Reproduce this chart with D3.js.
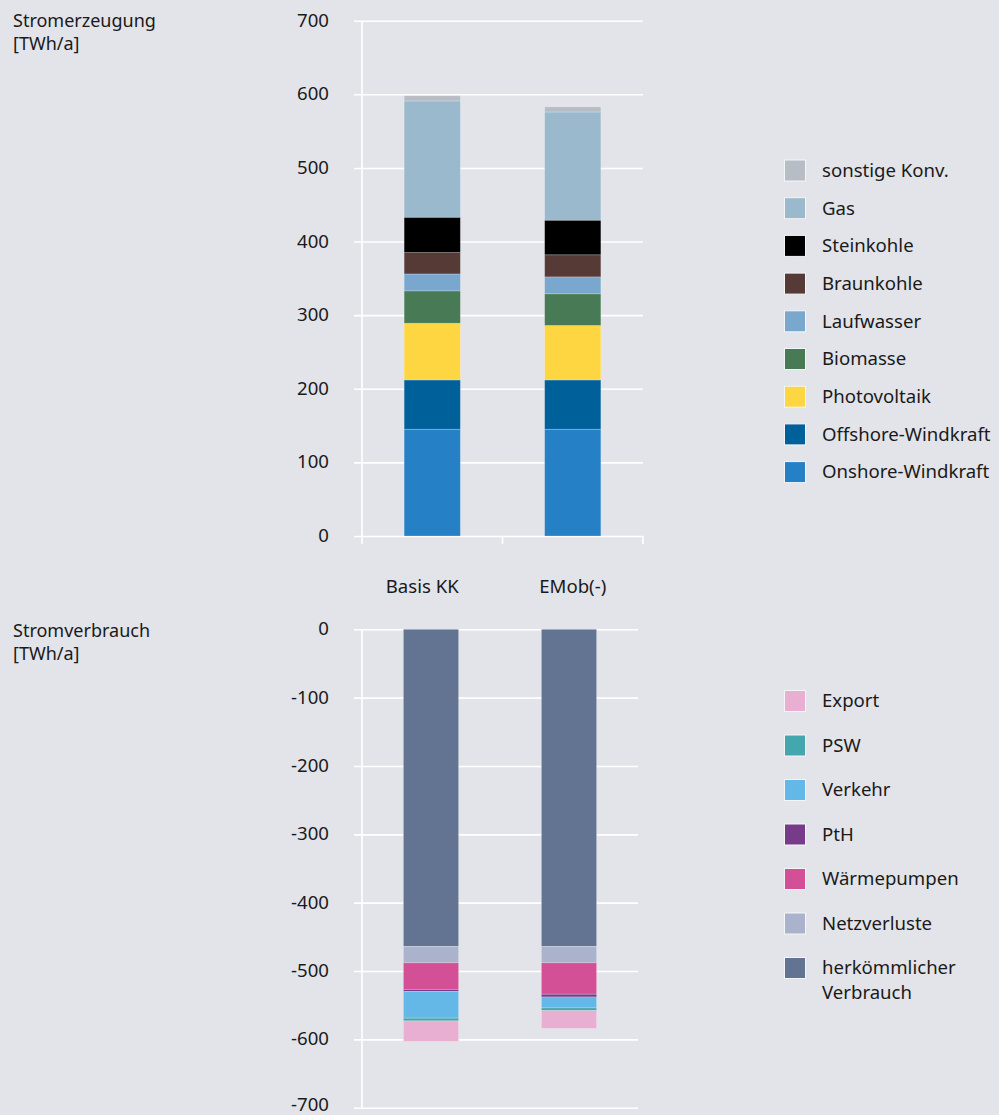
<!DOCTYPE html>
<html>
<head>
<meta charset="utf-8">
<script src="https://cdn.jsdelivr.net/npm/d3@7"></script>
<style>
  html, body { margin: 0; padding: 0; background: #e2e4e9; }
  svg { display: block; }
  text { font-family: "Noto Sans", sans-serif; font-size: 18.6px; fill: #1a1a1a; }
  text.title { font-size: 18px; }
</style>
</head>
<body>
<svg id="chart" width="999" height="1115"></svg>
<script>
// ---------- DATA ----------
const categories = ["Basis KK", "EMob(-)"];

const genSeries = ["Onshore-Windkraft", "Offshore-Windkraft", "Photovoltaik", "Biomasse",
                   "Laufwasser", "Braunkohle", "Steinkohle", "Gas", "sonstige Konv."];
const genBasisKK = [145, 67, 77, 44, 23, 29, 48, 158, 7];
const genEMob    = [145, 67, 74, 43, 23, 30, 47, 147, 7];
const genColors  = ["#2680c6", "#00609a", "#fed642", "#477a55",
                    "#79a7cd", "#553a36", "#000000", "#9ab9cc", "#b6bdc4"];
const genTicks   = [0, 100, 200, 300, 400, 500, 600, 700];

const conSeries = ["herkömmlicher Verbrauch", "Netzverluste", "Wärmepumpen", "PtH",
                   "Verkehr", "PSW", "Export"];
const conBasisKK = [-464, -24, -39, -3, -39, -4, -30];
const conEMob    = [-464, -24, -46, -4, -16, -4, -26];
const conColors  = ["#627492", "#aab3cb", "#d45096", "#763c8a",
                    "#63b8e8", "#44a6ae", "#e8afd3"];
const conTicks   = [0, -100, -200, -300, -400, -500, -600, -700];

// ---------- HELPERS ----------
const H = 1115;
const svg = d3.select("#chart");
const fmt = v => v < 0 ? "-" + Math.abs(v) : String(v);

function buildRows(series, valsA, valsB) {
  return categories.map((c, i) => {
    const row = { cat: c };
    const vals = i === 0 ? valsA : valsB;
    series.forEach((s, j) => row[s] = vals[j]);
    return row;
  });
}

function drawPanel(opts) {
  const { series, rows, colors, ticks, x0, x1, yTop, yBot, domain, xTicks } = opts;
  const g = svg.append("g");
  const x = d3.scaleBand().domain(categories).range([x0, x1]).paddingInner(0.6).paddingOuter(0.3);
  const y = d3.scaleLinear().domain(domain).range([yBot, yTop]);

  // gridlines + tick labels
  const yAxis = d3.axisLeft(y).tickValues(ticks).tickFormat(fmt)
    .tickSize(-(x1 - x0)).tickPadding(0);
  const ga = g.append("g").attr("transform", `translate(${x0},0)`).call(yAxis);
  ga.select(".domain").remove();
  ga.selectAll(".tick line").attr("x1", -8).attr("x2", x1 - x0)
    .attr("stroke", "#ffffff").attr("stroke-width", 1.6);
  ga.selectAll(".tick text").attr("x", -33)
    .attr("dy", d => {
      // keep label (incl. descender space) inside the picture
      const base = y(d) + 5.6;
      return (base + 5 > H ? (H - 5 - y(d)) : 5.6) + "px";
    })
    .style("font-family", "'Noto Sans', sans-serif").style("font-size", "18.6px")
    .attr("fill", "#1a1a1a").attr("text-anchor", "end");

  // vertical axis line
  g.append("line").attr("x1", x0).attr("x2", x0)
    .attr("y1", y(domain[1])).attr("y2", y(domain[0]))
    .attr("stroke", "#ffffff").attr("stroke-width", 1.6);

  // stacks
  const stack = d3.stack().keys(series).offset(d3.stackOffsetDiverging);
  const layers = stack(rows);
  g.append("g").selectAll("g").data(layers).join("g")
    .attr("fill", (d, i) => colors[i])
    .selectAll("rect").data(d => d).join("rect")
      .attr("x", d => x(d.data.cat))
      .attr("width", x.bandwidth())
      .attr("y", d => y(Math.max(d[0], d[1])))
      .attr("height", d => Math.abs(y(d[0]) - y(d[1])))
      .attr("stroke", "rgba(255,255,255,0.28)")
      .attr("stroke-width", 0.8);

  if (xTicks) {
    const base = y(0);
    const tickXs = [x0, (x0 + x1) / 2, x1];
    g.append("g").selectAll("line").data(tickXs).join("line")
      .attr("x1", d => d).attr("x2", d => d)
      .attr("y1", base).attr("y2", base + 8)
      .attr("stroke", "#ffffff").attr("stroke-width", 1.6);
    g.append("g").selectAll("text").data(categories).join("text")
      .attr("x", (d, i) => x(d) + x.bandwidth() / 2 + (i === 0 ? -10 : 0))
      .attr("y", base + 57)
      .attr("text-anchor", "middle")
      .text(d => d);
  }
  return { x, y };
}

// ---------- TOP: Stromerzeugung ----------
drawPanel({
  series: genSeries,
  rows: buildRows(genSeries, genBasisKK, genEMob),
  colors: genColors, ticks: genTicks,
  x0: 362, x1: 643, yTop: 20.7, yBot: 536, domain: [0, 700], xTicks: true
});

// ---------- BOTTOM: Stromverbrauch ----------
drawPanel({
  series: conSeries,
  rows: buildRows(conSeries, conBasisKK, conEMob),
  colors: conColors, ticks: conTicks,
  x0: 362, x1: 638, yTop: 629.3, yBot: 1107.7, domain: [-700, 0], xTicks: false
});

// ---------- TITLES ----------
function title(lines, yBase) {
  const t = svg.append("text").attr("class", "title").attr("x", 13).attr("y", yBase);
  lines.forEach((l, i) => t.append("tspan").attr("x", 13).attr("dy", i === 0 ? 0 : 22.5).text(l));
}
title(["Stromerzeugung", "[TWh/a]"], 27);
title(["Stromverbrauch", "[TWh/a]"], 637);

// ---------- LEGENDS ----------
function legend(series, colors, yFirst, step) {
  const items = series.map((s, i) => ({ s, c: colors[i] })).reverse();
  const g = svg.append("g");
  const it = g.selectAll("g").data(items).join("g")
    .attr("transform", (d, i) => `translate(784.5, ${yFirst + i * step})`);
  it.append("rect").attr("x", 0).attr("y", -10.5).attr("width", 21).attr("height", 21)
    .attr("fill", d => d.c).attr("stroke", "#f4f5f7").attr("stroke-width", 1);
  it.each(function (d) {
    const t = d3.select(this).append("text").attr("x", 37.5).attr("y", 0);
    const parts = d.s === "herkömmlicher Verbrauch" ? ["herkömmlicher", "Verbrauch"] : [d.s];
    parts.forEach((p, i) => t.append("tspan").attr("x", 37.5).attr("dy", i === 0 ? "0.34em" : 24.5).text(p));
  });
}
legend(genSeries, genColors, 170.5, 37.7);
legend(conSeries, conColors, 701, 44.5);
</script>
</body>
</html>
